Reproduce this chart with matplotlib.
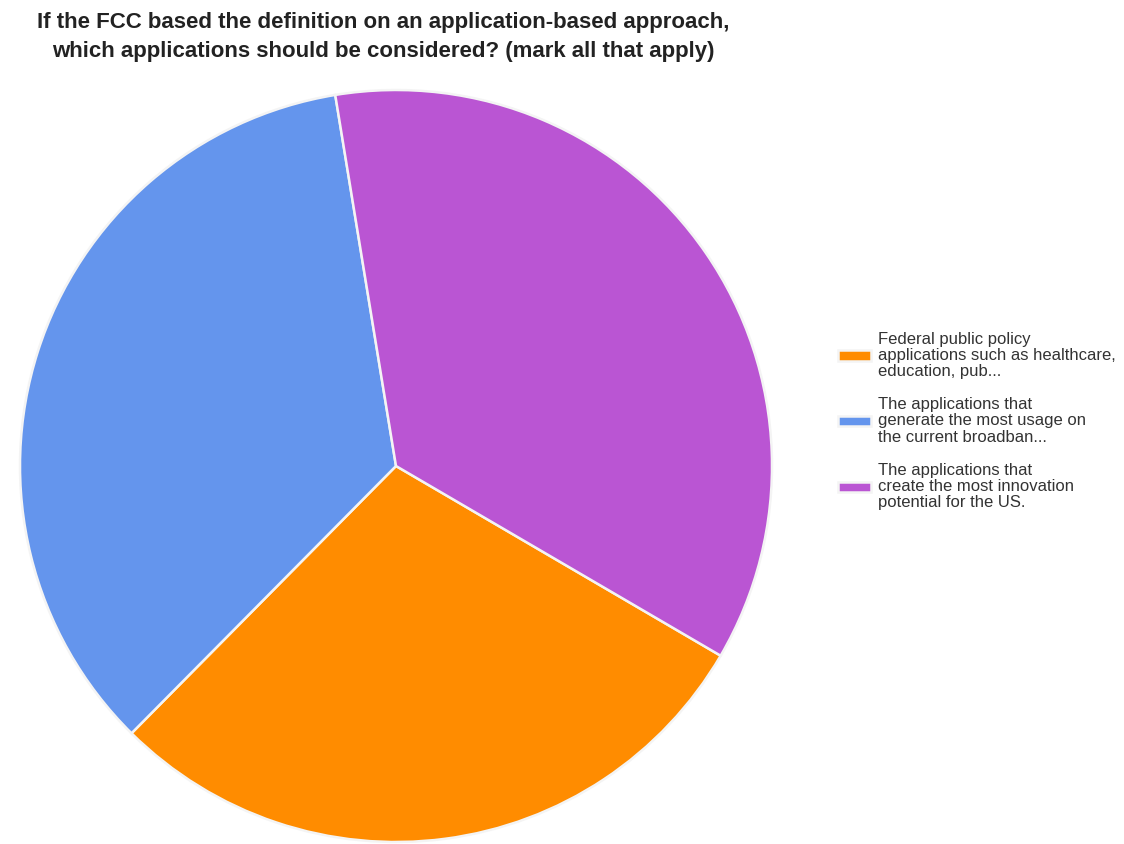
import matplotlib
matplotlib.use("Agg")
import matplotlib.pyplot as plt

# Survey responses, share of answers per option
labels = [
    "Federal public policy\napplications such as healthcare,\neducation, pub...",
    "The applications that\ngenerate the most usage on\nthe current broadban...",
    "The applications that\ncreate the most innovation\npotential for the US.",
]
shares = [29, 35, 36]
colors = ["#FF8C00", "#6495ED", "#BA55D3"]

title = ("If the FCC based the definition on an application-based approach,\n"
         "which applications should be considered? (mark all that apply)")

W, H = 1124, 844
fig = plt.figure(figsize=(W / 100, H / 100), dpi=100)
fig.patch.set_facecolor("white")

# pie centred at (396, 466) px with radius 376 px
cx, cy, r = 396, 466, 376
ax = fig.add_axes([(cx - r) / W, (H - cy - r) / H, 2 * r / W, 2 * r / H])

wedges, _ = ax.pie(shares, colors=colors, startangle=329.7, counterclock=False,
                   wedgeprops=dict(edgecolor="#f4f4f4", linewidth=1.8))
ax.set_xlim(-1, 1)
ax.set_ylim(-1, 1)
ax.set_aspect("equal")
ax.axis("off")

fig.text(383 / W, 1 - 37 / H, title, ha="center", va="center",
         fontsize=16, fontweight="bold", family="Liberation Sans",
         color="#222222", linespacing=1.45)

fig.legend(wedges, labels, loc="center left",
           bbox_to_anchor=(838 / W, 1 - 421 / H), frameon=False,
           borderaxespad=0, borderpad=0,
           prop=dict(family="Liberation Sans", size=12),
           labelcolor="#333333",
           handlelength=2.0, handleheight=0.6, handletextpad=0.4,
           labelspacing=1.1)
for t in fig.legends[0].get_texts():
    t.set_linespacing(1.1)

fig.savefig("out.png", dpi=100, facecolor="white")
